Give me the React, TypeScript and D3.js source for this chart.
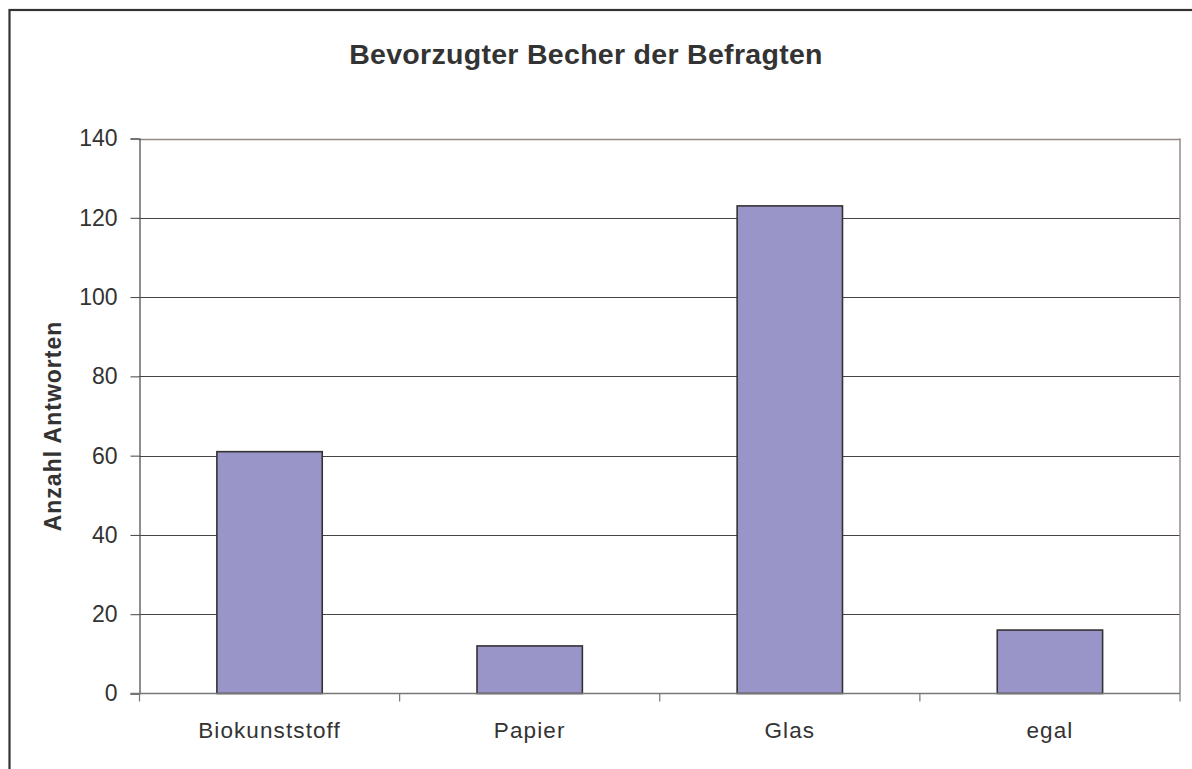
import React, { useEffect, useRef } from 'react';
import * as d3 from 'd3';

// data
const categories = ['Biokunststoff', 'Papier', 'Glas', 'egal'];
const answers = [61, 12, 123, 16];
const yTicks = [0, 20, 40, 60, 80, 100, 120, 140];

const title = 'Bevorzugter Becher der Befragten';
const yLabel = 'Anzahl Antworten';

const App = () => {
  const svgRef = useRef<SVGSVGElement>(null);

  useEffect(() => {
    const width = 1192;
    const height = 769;
    const margin = { top: 138.5, right: 12, bottom: 75, left: 139.5 };
    const font = '"Liberation Sans", Arial, sans-serif';
    const textColor = '#333';

    const svg = d3.select(svgRef.current)
      .attr('width', width)
      .attr('height', height)
      .attr('viewBox', `0 0 ${width} ${height}`);

    svg.selectAll('*').remove();

    svg.append('rect')
      .attr('width', width)
      .attr('height', height)
      .attr('fill', '#fff');

    // outer chart frame (right and bottom edges fall outside the picture)
    svg.append('rect')
      .attr('x', 9.5)
      .attr('y', 10)
      .attr('width', 1300)
      .attr('height', 900)
      .attr('fill', 'none')
      .attr('stroke', '#333')
      .attr('stroke-width', 2.2);

    const x = d3.scaleBand()
      .domain(categories)
      .range([margin.left, width - margin.right])
      .paddingInner(0.595)
      .paddingOuter(0.2975);

    const y = d3.scaleLinear()
      .domain([0, 140])
      .range([height - margin.bottom - 0.5, margin.top]);

    const plotRight = width - margin.right;

    // gridlines
    svg.append('g')
      .selectAll('line')
      .data(yTicks.filter(t => t > 0))
      .enter()
      .append('line')
      .attr('x1', margin.left)
      .attr('x2', plotRight)
      .attr('y1', d => Math.round(y(d)) + 0.5)
      .attr('y2', d => Math.round(y(d)) + 0.5)
      .attr('stroke', d => (d === 140 ? '#958a86' : '#444'))
      .attr('stroke-width', d => (d === 140 ? 1.5 : 1));

    // right border of plot area
    svg.append('line')
      .attr('x1', plotRight)
      .attr('x2', plotRight)
      .attr('y1', y(140))
      .attr('y2', y(0))
      .attr('stroke', '#958a86')
      .attr('stroke-width', 1.5);

    // bars
    svg.append('g')
      .selectAll('rect')
      .data(categories)
      .enter()
      .append('rect')
      .attr('x', d => x(d))
      .attr('y', (d, i) => y(answers[i]))
      .attr('width', x.bandwidth())
      .attr('height', (d, i) => y(0) - y(answers[i]))
      .attr('fill', '#9a95c8')
      .attr('stroke', '#333')
      .attr('stroke-width', 1.6);

    // y axis
    const yAxis = svg.append('g')
      .attr('transform', `translate(${margin.left},0)`)
      .call(d3.axisLeft(y).tickValues(yTicks).tickSize(9).tickPadding(13));
    yAxis.select('.domain').attr('stroke', '#444').attr('stroke-width', 1.2);
    yAxis.selectAll('.tick line').attr('stroke', '#444');
    yAxis.selectAll('text')
      .attr('fill', textColor)
      .style('font-family', font)
      .style('font-size', '23px');

    // x axis: ticks at category boundaries
    const xAxisG = svg.append('g')
      .attr('transform', `translate(0,${y(0)})`);
    xAxisG.append('line')
      .attr('x1', margin.left - 9)
      .attr('x2', plotRight)
      .attr('stroke', '#777')
      .attr('stroke-width', 1.5);
    const step = x.step();
    const bounds = d3.range(categories.length + 1).map(i => margin.left + i * step);
    xAxisG.selectAll('.xtick')
      .data(bounds)
      .enter()
      .append('line')
      .attr('class', 'xtick')
      .attr('x1', d => d)
      .attr('x2', d => d)
      .attr('y1', 0)
      .attr('y2', 8)
      .attr('stroke', '#777')
      .attr('stroke-width', 1.2);
    xAxisG.selectAll('.xlabel')
      .data(categories)
      .enter()
      .append('text')
      .attr('class', 'xlabel')
      .attr('x', d => (x(d) as number) + x.bandwidth() / 2)
      .attr('y', 44)
      .attr('text-anchor', 'middle')
      .attr('fill', textColor)
      .style('font-family', font)
      .style('font-size', '22.5px')
      .style('letter-spacing', '1.1px')
      .text(d => d);

    // title
    svg.append('text')
      .attr('x', 586)
      .attr('y', 64)
      .attr('text-anchor', 'middle')
      .attr('fill', textColor)
      .style('font-family', font)
      .style('font-weight', 'bold')
      .style('font-size', '28.5px')
      .style('letter-spacing', '0.3px')
      .text(title);

    // y axis title
    svg.append('text')
      .attr('transform', `translate(61,426) rotate(-90)`)
      .attr('text-anchor', 'middle')
      .attr('fill', textColor)
      .style('font-family', font)
      .style('font-weight', 'bold')
      .style('font-size', '23px')
      .style('letter-spacing', '1px')
      .text(yLabel);
  }, []);

  return (
    <svg
      ref={svgRef}
      style={{ position: 'absolute', left: 0, top: 0, display: 'block' }}
    />
  );
};

export default App;
